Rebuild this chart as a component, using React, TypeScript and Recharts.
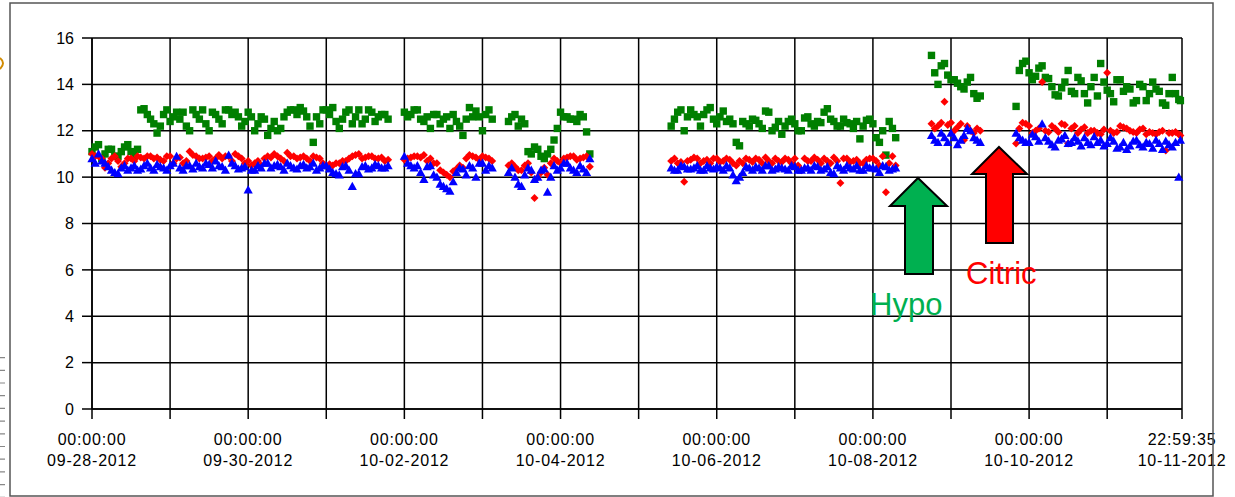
import React from 'react'
import { ScatterChart, Scatter, XAxis, YAxis, CartesianGrid } from 'recharts'

// sampling times (even hours), hours from 09-28-2012 00:00:00
const hours = [
  // 09-28 .. 10-01
  0, 2, 4, 6, 8, 10, 12, 14, 16, 18, 20, 22, 24, 26, 28, 30, 32, 34, 36, 38, 40, 42, 44,
  46, 48, 50, 52, 54, 56, 58, 60, 62, 64, 66, 68, 70, 72, 74, 76, 78, 80, 82, 84, 86, 88, 90,
  // 10-02 .. 10-03
  96, 98, 100, 102, 104, 106, 108, 110, 112, 114, 116, 118, 120, 122,
  // 10-03 .. 10-04
  128, 130, 132, 134, 136, 138, 140, 142, 144, 146, 148, 150, 152,
  // 10-05 .. 10-08
  178, 180, 182, 184, 186, 188, 190, 192, 194, 196, 198, 200, 202, 204, 206, 208, 210, 212,
  214, 216, 218, 220, 222, 224, 226, 228, 230, 232, 234, 236, 238, 240, 242, 244, 246,
  // 10-08 .. 10-09 (after hypo)
  258, 260, 262, 264, 266, 268, 270, 272,
  // 10-09 .. 10-11 (after citric)
  284, 286, 288, 290, 292, 294, 296, 298, 300, 302, 304, 306, 308, 310, 312, 314, 316, 318,
  320, 322, 324, 326, 328, 330, 332, 334,
]

// the readings in between (odd hours)
const hoursB = [
  1, 3, 5, 7, 9, 11, 13, 15, 17, 19, 21, 23, 25, 27, 29, 31, 33, 35, 37, 39, 41, 43, 45,
  47, 49, 51, 53, 55, 57, 59, 61, 63, 65, 67, 69, 71, 73, 75, 77, 79, 81, 83, 85, 87, 89, 91,
  97, 99, 101, 103, 105, 107, 109, 111, 113, 115, 117, 119, 121, 123,
  129, 131, 133, 135, 137, 139, 141, 143, 145, 147, 149, 151, 153,
  179, 181, 183, 185, 187, 189, 191, 193, 195, 197, 199, 201, 203, 205, 207, 209, 211, 213,
  215, 217, 219, 221, 223, 225, 227, 229, 231, 233, 235, 237, 239, 241, 243, 245, 247,
  259, 261, 263, 265, 267, 269, 271, 273,
  285, 287, 289, 291, 293, 295, 297, 299, 301, 303, 305, 307, 309, 311, 313, 315, 317, 319,
  321, 323, 325, 327, 329, 331, 333, 334.5,
]

const greenValues = [
  11.1, 11.4, 11.0, 11.2, 10.9, 11.3, 11.1, 11.2,
  12.95, 12.5, 11.9, 12.7, 12.4, 12.8, 12.8, 12.0, 12.7, 12.9, 12.0, 12.7, 12.3, 12.9, 12.8, 12.2, 12.8,
  12.0, 12.6, 11.8, 12.4, 12.1, 12.8, 12.9, 13.0, 12.6, 11.5, 12.3, 12.9, 13.0, 12.1, 12.8, 12.3, 12.9,
  12.5, 12.8, 12.6, 12.7,
  12.8, 12.7, 12.9, 12.4, 12.1, 12.7, 12.5, 12.1, 12.4, 11.8, 13.0, 12.85, 12.0, 12.9,
  12.4, 12.7, 12.5, 11.1, 11.3, 10.9, 11.0, 11.6, 12.8, 12.6, 12.5, 12.7, 11.95,
  12.2, 12.8, 12.0, 12.9, 12.6, 12.7, 13.0, 12.3, 12.85, 12.5, 11.5, 12.4, 12.2, 12.45, 12.1, 12.8,
  12.15, 11.85, 12.4, 12.3, 12.0, 12.6, 12.2, 12.35, 12.95, 12.4, 12.2, 12.35, 12.1, 11.65, 12.45,
  12.3, 11.5, 10.95, 12.1,
  15.25, 14.0, 14.9, 14.2, 14.05, 13.8, 14.3, 13.4,
  13.05, 14.9, 14.5, 14.35, 14.8, 14.25, 13.55, 13.85, 14.6, 13.6, 14.15, 13.2, 14.3, 14.9, 13.75,
  13.25, 14.2, 13.9, 13.2, 14.0, 13.3, 14.1, 13.7, 13.1, 14.3, 13.35,
]
const greenValuesB = [
  11.3, 10.8, 11.2, 10.9, 11.1, 11.4, 10.9, 12.9,
  12.7, 12.3, 12.2, 12.9, 12.6, 12.5, 12.2, 12.9, 12.5, 12.3, 12.8, 12.5, 12.9, 12.7, 12.6, 12.4, 12.6,
  12.3, 12.5, 12.1, 12.0, 12.6, 12.9, 12.7, 12.85, 12.2, 12.6, 12.9, 12.7, 12.4, 12.5, 12.9, 12.6, 12.3,
  12.9, 12.4, 12.7, 12.5,
  12.6, 12.9, 12.5, 12.6, 12.7, 12.3, 12.6, 12.7, 12.2, 12.5, 12.6, 12.6, 12.7, 12.5,
  12.6, 12.2, 12.3, 11.0, 11.2, 10.8, 11.2, 12.1, 12.6, 12.5, 12.4, 12.6, 11.0,
  12.5, 12.9, 12.6, 12.7, 12.2, 12.9, 12.5, 12.6, 12.4, 12.3, 11.35, 12.3, 12.5, 12.3, 12.85, 12.0,
  12.4, 12.2, 12.5, 12.0, 12.55, 12.3, 12.4, 12.8, 12.5, 12.2, 12.5, 12.3, 12.4, 12.2, 12.5,
  11.7, 12.0, 12.4, 11.7,
  14.5, 14.8, 14.4, 14.2, 13.9, 14.1, 13.6, 13.5,
  14.6, 15.0, 14.2, 14.7, 14.3, 13.9, 13.5, 14.1, 13.7, 14.3, 13.6, 13.9, 13.5, 14.1, 13.6,
  14.2, 13.7, 13.8, 13.3, 13.9, 13.6, 13.8, 13.2, 13.6, 13.6, 13.3,
]

const redValues = [
  11.0, 10.9, 10.4, 10.8, 10.7, 10.6, 10.8, 10.9, 10.8, 10.9, 10.85, 10.7, 10.9, 10.8, 10.6, 11.1,
  10.9, 10.8, 10.9, 10.8, 10.8, 10.9, 11.0, 10.8, 10.7, 10.6, 10.5, 10.9, 11.0, 10.8, 11.05, 10.9,
  10.85, 10.8, 10.9, 10.8, 10.5, 10.5, 10.6, 10.7, 10.9, 11.0, 10.85, 10.9, 10.8, 10.7,
  10.75, 10.85, 10.9, 10.95, 10.8, 10.6, 10.2, 10.0, 10.35, 10.4, 10.95, 10.85, 10.9, 10.8,
  10.5, 10.45, 10.3, 10.6, 9.1, 10.2, 10.1, 10.8, 10.6, 10.85, 10.9, 10.8, 10.9,
  10.7, 10.6, 9.8, 10.75, 10.8, 10.7, 10.6, 10.8, 10.7, 10.75, 10.5, 10.6, 10.75, 10.8, 10.6, 10.7,
  10.8, 10.65, 10.75, 10.8, 10.3, 10.7, 10.85, 10.6, 10.7, 10.85, 9.75, 10.8, 10.7, 10.6, 10.75,
  10.8, 10.5, 9.35, 10.9,
  12.3, 12.2, 13.25, 12.35, 12.15, 11.6, 12.0, 12.1,
  11.45, 12.35, 12.2, 12.0, 14.1, 11.95, 12.1, 12.3, 11.45, 12.2, 12.05, 11.9, 12.0, 11.85, 14.5,
  11.9, 12.2, 12.1, 11.95, 12.05, 11.85, 11.9, 11.95, 11.15, 11.9, 11.85,
]
const redValuesB = [
  10.9, 10.8, 10.6, 10.9, 10.45, 10.8, 10.7, 10.85, 10.9, 10.8,
  10.75, 10.9, 10.6, 10.85, 10.7, 10.95, 10.8, 10.85, 10.7, 10.95,
  10.9, 10.7, 10.9, 10.6, 10.5, 10.7, 10.8, 10.85, 10.9, 10.7,
  10.9, 10.8, 10.9, 10.7, 10.85, 10.6, 10.55, 10.6, 10.7, 10.8,
  10.95, 10.8, 10.9, 10.8, 10.85, 10.75,
  10.8, 10.9, 10.85, 10.7, 10.6, 10.3, 10.1, 10.25, 10.5, 10.8, 10.9, 10.75, 10.85, 10.7,
  10.6, 10.3, 10.5, 10.2, 10.0, 10.4, 10.6, 10.7, 10.8, 10.9, 10.75, 10.85, 10.45,
  10.8, 10.65, 10.7, 10.85, 10.6, 10.75, 10.8, 10.65, 10.8, 10.6, 10.7, 10.8, 10.65, 10.75, 10.85,
  10.6, 10.7, 10.8, 10.6, 10.5, 10.8, 10.7, 10.75, 10.8, 10.6, 10.7, 10.8, 10.65, 10.75, 10.6,
  10.8, 10.7, 10.9, 10.6, 10.5,
  12.1, 12.35, 12.25, 12.0, 12.3, 12.2, 11.9, 12.0,
  12.1, 12.3, 11.9, 12.1, 12.0, 12.2, 11.95, 12.25, 12.1, 11.9, 12.15, 12.0, 11.9, 12.05, 12.0,
  11.95, 12.15, 12.0, 11.9, 12.1, 11.95, 11.85, 12.0, 11.9, 11.95, 11.8,
]

const blueValues = [
  10.8, 11.0, 10.6, 10.3, 10.15, 10.5, 10.4, 10.3, 10.5, 10.4, 10.55, 10.4, 10.5, 10.9, 10.3, 10.5,
  10.6, 10.4, 10.55, 10.7, 10.45, 10.95, 10.5, 10.4, 9.45, 10.3, 10.4, 10.6, 10.5, 10.45, 10.6, 10.4,
  10.5, 10.4, 10.6, 10.4, 10.5, 10.2, 10.1, 10.5, 9.6, 10.15, 10.5, 10.4, 10.5, 10.4,
  10.9, 10.5, 10.5, 9.9, 10.5, 10.0, 9.6, 9.4, 10.2, 10.35, 10.5, 10.0, 10.6, 10.5,
  10.2, 10.0, 9.6, 10.4, 9.9, 10.3, 9.35, 10.5, 10.4, 10.6, 10.3, 10.5, 10.2,
  10.4, 10.3, 10.45, 10.35, 10.5, 10.3, 10.4, 10.45, 10.3, 10.4, 9.85, 10.2, 10.4, 10.45, 10.3, 10.5,
  10.35, 10.4, 10.3, 10.45, 10.3, 10.4, 10.5, 10.3, 10.45, 10.15, 10.4, 10.5, 10.35, 10.3, 10.5,
  10.4, 10.2, 10.45, 10.35,
  11.8, 11.5, 11.7, 11.9, 11.4, 11.8, 12.0, 11.6,
  11.9, 11.6, 11.5, 11.75, 12.3, 11.55, 11.3, 11.65, 11.45, 11.7, 11.35, 11.5, 11.75, 11.6, 11.45,
  11.55, 11.3, 11.2, 11.55, 11.4, 11.5, 11.25, 11.45, 11.55, 11.3, 10.0,
]
const blueValuesB = [
  10.6, 10.7, 10.45, 10.2, 10.4, 10.3, 10.5, 10.35, 10.6, 10.3,
  10.45, 10.3, 10.6, 10.4, 10.5, 10.35, 10.45, 10.6, 10.4, 10.5,
  10.3, 10.6, 10.35, 10.45, 10.3, 10.5, 10.6, 10.4, 10.55, 10.3,
  10.5, 10.35, 10.55, 10.45, 10.3, 10.5, 10.35, 10.15, 10.45, 10.3,
  10.15, 10.45, 10.35, 10.55, 10.4, 10.5,
  10.6, 10.4, 10.2, 10.45, 10.1, 9.7, 9.5, 9.8, 10.4, 10.1, 10.4, 10.6, 10.3, 10.4,
  10.4, 9.7, 10.1, 10.3, 10.0, 10.35, 10.0, 10.3, 10.6, 10.4, 10.2, 10.35, 10.8,
  10.3, 10.5, 10.35, 10.4, 10.3, 10.5, 10.35, 10.4, 10.5, 10.1, 10.0, 10.45, 10.3, 10.4, 10.5,
  10.3, 10.45, 10.35, 10.5, 10.3, 10.4, 10.3, 10.45, 10.35, 10.2, 10.5, 10.3, 10.4, 10.5, 10.3,
  10.4, 10.35, 10.5, 10.3, 10.4,
  11.6, 11.9, 11.5, 11.7, 11.6, 12.1, 11.7, 11.5,
  11.7, 11.5, 11.85, 11.55, 11.7, 11.4, 11.6, 11.8, 11.5, 11.55, 11.7, 11.4, 11.5, 11.35, 11.7,
  11.25, 11.5, 11.35, 11.6, 11.3, 11.45, 11.6, 11.2, 11.4, 11.5, 11.6,
]

// x ticks: one per day, last one is the final sample 10-11-2012 22:59:35
const endHour = 13 * 24 + 22 + 59 / 60 + 35 / 3600
const dayTicks = [0, 24, 48, 72, 96, 120, 144, 168, 192, 216, 240, 264, 288, 312, endHour]
const dateLabels = ['09-28-2012', '', '09-30-2012', '', '10-02-2012', '', '10-04-2012', '',
  '10-06-2012', '', '10-08-2012', '', '10-10-2012', '', '10-11-2012']
const timeLabels = ['00:00:00', '', '00:00:00', '', '00:00:00', '', '00:00:00', '',
  '00:00:00', '', '00:00:00', '', '00:00:00', '', '22:59:35']
const yTicks = [0, 2, 4, 6, 8, 10, 12, 14, 16]

const toPoints = (a: number[], b: number[]) => [
  ...hours.map((h, i) => ({ h, v: a[i] })),
  ...hoursB.map((h, i) => ({ h, v: b[i] })),
]
const greenData = toPoints(greenValues, greenValuesB)
const redData = toPoints(redValues, redValuesB)
const blueData = toPoints(blueValues, blueValuesB)

const FONT = '"Liberation Sans", Arial, sans-serif'

const Square = (p: any) => (
  <rect x={p.cx - 3.7} y={p.cy - 3.7} width={7.4} height={7.4} fill="#007f00" />
)
const Diamond = (p: any) => (
  <polygon
    points={`${p.cx},${p.cy - 4} ${p.cx + 4},${p.cy} ${p.cx},${p.cy + 4} ${p.cx - 4},${p.cy}`}
    fill="#ff0000"
  />
)
const Triangle = (p: any) => (
  <polygon
    points={`${p.cx},${p.cy - 4.6} ${p.cx + 4.6},${p.cy + 3.6} ${p.cx - 4.6},${p.cy + 3.6}`}
    fill="#0000ff"
  />
)

const XTick = (props: any) => {
  const { x, y, index } = props
  if (!dateLabels[index]) return <g />
  return (
    <g fontFamily={FONT} fontSize={16} fill="#000" letterSpacing={0.8}>
      <text x={x} y={y + 26} textAnchor="middle">{timeLabels[index]}</text>
      <text x={x} y={y + 47} textAnchor="middle">{dateLabels[index]}</text>
    </g>
  )
}

export default function App() {
  return (
    <div style={{ position: 'absolute', left: 0, top: 0, width: 1235, height: 497, background: '#fff' }}>
      <ScatterChart width={1235} height={497} margin={{ top: 38, right: 53, bottom: 0, left: 0 }}>
        <CartesianGrid stroke="#000" strokeWidth={1.5} />
        <XAxis
          type="number"
          dataKey="h"
          domain={[0, endHour]}
          ticks={dayTicks}
          interval={0}
          height={88}
          tickSize={10}
          tickMargin={0}
          axisLine={{ stroke: '#000', strokeWidth: 1.5 }}
          tickLine={{ stroke: '#000', strokeWidth: 1.5 }}
          tick={<XTick />}
        />
        <YAxis
          type="number"
          dataKey="v"
          domain={[0, 16]}
          ticks={yTicks}
          interval={0}
          width={92}
          tickSize={10}
          tickMargin={8}
          axisLine={{ stroke: '#000', strokeWidth: 1.5 }}
          tickLine={{ stroke: '#000', strokeWidth: 1.5 }}
          tick={{ fontFamily: FONT, fontSize: 16, fill: '#000' }}
        />
        <Scatter data={greenData} shape={Square} isAnimationActive={false} />
        <Scatter data={redData} shape={Diamond} isAnimationActive={false} />
        <Scatter data={blueData} shape={Triangle} isAnimationActive={false} />
      </ScatterChart>
      <svg
        width={1235}
        height={497}
        style={{ position: 'absolute', left: 0, top: 0, pointerEvents: 'none' }}
      >
        <rect x={10} y={3} width={1203} height={493} fill="none" stroke="#555" strokeWidth={1.5} />
        <path d="M0 58 Q6 63 0 69" fill="none" stroke="#d08a00" strokeWidth={2} />
        <line x1={2.5} y1={357} x2={2.5} y2={497} stroke="#888" strokeWidth={5} strokeDasharray="1.2 11.5" />
        <polygon
          points="918,178 947,206 933,206 933,274 905,274 905,206 890,206"
          fill="#00b050"
          stroke="#000"
          strokeWidth={2}
        />
        <polygon
          points="999,147 1027,174 1013,174 1013,243 986,243 986,174 972,174"
          fill="#ff0000"
          stroke="#000"
          strokeWidth={2}
        />
        <text x={870} y={315} fontFamily={FONT} fontSize={31} fill="#00b050">Hypo</text>
        <text x={966} y={284} fontFamily={FONT} fontSize={31} fill="#ff0000">Citric</text>
      </svg>
    </div>
  )
}
